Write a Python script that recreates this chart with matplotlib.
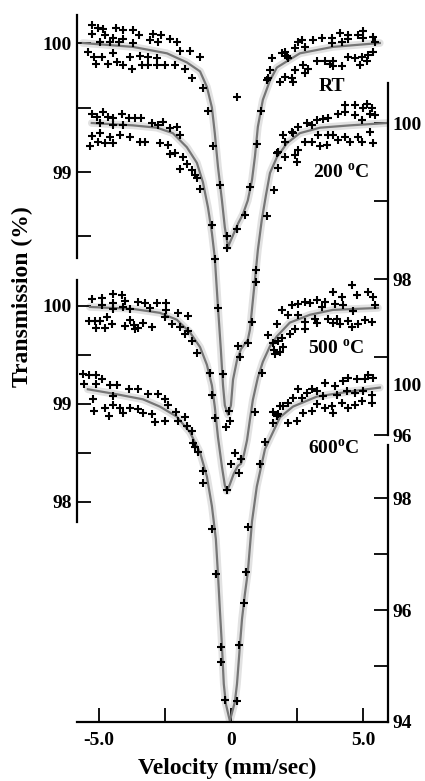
import matplotlib
matplotlib.use('Agg')
import matplotlib.pyplot as plt

plt.rcParams['font.family'] = ['Liberation Serif', 'DejaVu Serif']
plt.rcParams['font.weight'] = 'bold'
plt.rcParams['mathtext.fontset'] = 'custom'
plt.rcParams['mathtext.rm'] = 'Liberation Serif:bold'
plt.rcParams['mathtext.bf'] = 'Liberation Serif:bold'

# ---- fitted curves (velocity mm/s, transmission %) ----
rt_fit_v = [-5.61, -3.71, -2.42, -1.67, -1.17, -0.91, -0.72, -0.61, -0.49, -0.34, -0.23, -0.11,
            0.08, 0.27, 0.45, 0.64, 0.80, 0.91, 1.02, 1.21, 1.48, 1.74, 2.61, 3.86, 5.64]
rt_fit_t = [100.00, 99.97, 99.92, 99.85, 99.78, 99.66, 99.50, 99.30, 99.04, 98.78, 98.57, 98.42,
            98.51, 98.60, 98.67, 98.78, 98.94, 99.12, 99.35, 99.56, 99.71, 99.81, 99.92, 99.97, 100.00]

t200_fit_v = [-5.27, -3.71, -2.80, -2.20, -1.67, -1.29, -1.06, -0.87, -0.72, -0.61, -0.49, -0.38,
              -0.30, -0.23, -0.11, 0.00, 0.08, 0.23, 0.38, 0.53, 0.64, 0.72, 0.91, 1.02, 1.17,
              1.33, 1.48, 1.74, 2.12, 2.61, 3.37, 4.51, 5.91]
t200_fit_t = [100.00, 99.97, 99.94, 99.87, 99.69, 99.49, 99.24, 98.92, 98.59, 98.27, 97.64, 97.09,
              96.64, 96.38, 96.26, 96.38, 96.71, 96.96, 97.10, 97.17, 97.22, 97.35, 97.99, 98.37, 98.76,
              99.08, 99.36, 99.56, 99.74, 99.87, 99.94, 99.97, 100.00]

t500_fit_v = [-5.34, -3.71, -2.69, -2.05, -1.55, -1.17, -0.91, -0.72, -0.61, -0.49, -0.34, -0.23,
              -0.15, -0.04, 0.11, 0.27, 0.38, 0.49, 0.61, 0.72, 0.83, 1.02, 1.21, 1.48, 1.74,
              2.23, 2.99, 3.86, 5.57]
t500_fit_t = [99.99, 99.97, 99.93, 99.86, 99.73, 99.58, 99.40, 99.19, 98.97, 98.66, 98.36, 98.17,
              98.11, 98.18, 98.29, 98.37, 98.39, 98.48, 98.63, 98.84, 99.04, 99.27, 99.43, 99.59, 99.69,
              99.83, 99.91, 99.96, 99.98]

t600_fit_v = [-5.42, -4.32, -3.33, -2.69, -2.05, -1.55, -1.17, -0.91, -0.72, -0.57, -0.49, -0.42,
              -0.34, -0.27, -0.19, -0.04, 0.15, 0.23, 0.34, 0.42, 0.53, 0.64, 0.80, 0.98, 1.29,
              1.86, 2.35, 3.26, 4.51, 5.64]
t600_fit_t = [99.95, 99.86, 99.77, 99.64, 99.46, 99.18, 98.82, 98.39, 97.86, 97.27, 96.64, 96.02,
              95.36, 94.68, 94.32, 94.02, 94.36, 94.68, 95.36, 95.84, 96.29, 96.68, 97.59, 98.21, 98.88,
              99.45, 99.64, 99.82, 99.91, 99.98]

# ---- measured points ----
rt_v = [-5.28, -5.03, -4.84, -4.36, -4.08, -3.70, -3.47, -2.94, -2.63, -2.31, -5.28, -4.77, -4.46,
        -4.10, -4.94, -4.58, -4.23, -3.70, -3.07, -2.75, -2.06, -5.41, -5.19, -4.90, -4.46, -3.83,
        -3.45, -3.13, -2.81, -1.93, -1.55, -1.17, -5.11, -4.65, -4.33, -4.08, -3.76, -3.38, -3.13,
        -2.81, -2.50, -2.12, -1.74, -1.49, -1.05, -0.86, -0.67, -0.42, -0.16, -0.13, 0.22, 0.54,
        0.72, 0.97, 1.14, 1.35, 1.48, 0.22, 2.68, 3.12, 3.44, 3.81, 4.13, 4.44, 4.44, 4.82, 5.01,
        5.01, 5.39, 5.45, 4.19, 3.81, 2.80, 2.55, 2.42, 2.05, 2.11, 1.92, 2.17, 1.54, 2.42, 2.74,
        2.93, 2.80, 3.25, 3.56, 3.75, 3.88, 3.88, 4.19, 4.44, 4.70, 4.95, 5.20, 5.39, 4.89, 5.14,
        1.41, 1.86, 2.05, 2.30, 2.36]
rt_t = [100.14, 100.12, 100.11, 100.12, 100.10, 100.10, 100.06, 100.07, 100.06, 100.03, 100.07,
        100.06, 100.04, 100.03, 100.01, 100.01, 100.01, 100.00, 100.02, 100.01, 100.01, 99.93, 99.89,
        99.89, 99.92, 99.89, 99.90, 99.89, 99.88, 99.94, 99.94, 99.89, 99.84, 99.84, 99.85, 99.83,
        99.80, 99.83, 99.83, 99.83, 99.83, 99.83, 99.80, 99.73, 99.65, 99.47, 99.20, 98.90, 98.50,
        98.41, 98.56, 98.67, 98.88, 99.22, 99.47, 99.71, 99.79, 99.58, 100.02, 100.02, 100.04,
        100.04, 100.08, 100.06, 100.03, 100.06, 100.09, 100.04, 100.05, 100.01, 100.01, 100.00,
        99.97, 100.01, 99.96, 99.93, 99.90, 99.92, 99.88, 99.88, 99.79, 99.83, 99.80, 99.77, 99.86,
        99.86, 99.84, 99.86, 99.82, 99.82, 99.89, 99.88, 99.89, 99.91, 99.93, 99.83, 99.86, 99.73,
        99.70, 99.74, 99.73, 99.70]

t200_v = [-5.28, -5.09, -4.84, -4.65, -4.46, -4.14, -3.85, -3.64, -3.41, -4.96, -4.46, -4.08,
          -3.00, -2.75, -2.56, -2.31, -2.06, -5.28, -4.96, -4.58, -4.20, -3.83, -5.03, -4.77, -4.48,
          -3.45, -3.26, -2.69, -2.38, -1.93, -5.34, -2.31, -2.12, -1.81, -1.68, -1.93, -1.49, -1.36,
          -1.30, -1.17, -0.73, -0.61, -0.48, -0.31, -0.06, -0.04, -0.19, 0.28, 0.34, 0.66, 0.78,
          0.95, 0.95, 1.35, 1.64, 1.79, 2.05, 2.49, 2.42, 2.05, 1.98, 2.30, 2.55, 2.87, 3.06, 3.25,
          3.50, 3.69, 4.06, 4.32, 4.70, 5.01, 5.14, 4.70, 4.32, 5.33, 5.27, 5.45, 4.95, 2.80, 3.06,
          3.37, 3.69, 3.88, 4.06, 4.32, 4.51, 4.82, 4.95, 5.27, 5.39, 3.63, 3.31, 2.55, 1.79, 1.73,
          2.36]
t200_t = [100.11, 100.08, 100.14, 100.08, 100.06, 100.11, 100.07, 100.07, 100.07, 100.00, 99.97,
          99.97, 100.00, 99.97, 100.01, 99.93, 99.95, 99.84, 99.87, 99.82, 99.85, 99.82, 99.76, 99.74,
          99.74, 99.76, 99.76, 99.75, 99.72, 99.85, 99.70, 99.60, 99.61, 99.57, 99.47, 99.41, 99.40,
          99.33, 99.30, 99.16, 98.69, 98.26, 97.63, 96.78, 96.31, 96.18, 96.10, 97.14, 97.00, 97.18,
          97.45, 98.12, 97.96, 98.81, 99.14, 99.42, 99.56, 99.50, 99.59, 99.76, 99.85, 99.89, 99.95,
          100.00, 99.98, 100.04, 100.05, 100.06, 100.12, 100.14, 100.10, 100.19, 100.24, 100.23,
          100.23, 100.19, 100.12, 100.10, 100.04, 99.76, 99.76, 99.70, 99.85, 99.85, 99.78, 99.82,
          99.76, 99.82, 99.76, 99.89, 99.74, 99.72, 99.85, 99.65, 99.63, 99.61, 99.87]

t500_v = [-5.28, -4.90, -4.48, -4.14, -4.02, -3.51, -3.26, -2.81, -2.44, -4.90, -4.46, -4.46,
          -4.08, -3.83, -3.07, -2.46, -5.37, -5.15, -4.96, -4.71, -5.11, -4.77, -4.52, -4.02, -3.83,
          -3.67, -3.64, -3.51, -3.32, -3.00, -2.50, -2.25, -2.00, -1.93, -1.62, -1.74, -1.62, -1.49,
          -1.30, -0.80, -0.73, -0.61, -0.01, 0.15, 0.38, 0.31, -0.13, 0.91, 1.16, 1.41, 1.60, 1.79,
          1.64, 1.92, 1.98, 1.86, 1.67, 1.73, 1.92, 2.17, 2.30, 2.55, 2.80, 2.99, 3.25, 3.56, 3.88,
          4.19, 4.57, 4.76, 5.20, 3.94, 4.25, 5.39, 5.45, 4.63, 3.44, 2.55, 2.80, 2.80, 2.42, 2.23,
          3.18, 3.25, 3.69, 3.88, 4.00, 4.13, 4.44, 4.57, 4.82, 5.08, 5.33]
t500_t = [100.07, 100.08, 100.12, 100.11, 100.05, 100.04, 100.03, 100.03, 100.03, 100.01, 100.03,
          99.97, 99.99, 99.97, 99.98, 99.96, 99.85, 99.85, 99.85, 99.89, 99.78, 99.78, 99.82, 99.80,
          99.86, 99.81, 99.77, 99.78, 99.83, 99.79, 99.89, 99.82, 99.93, 99.79, 99.90, 99.71, 99.74,
          99.64, 99.52, 99.32, 99.09, 98.86, 98.39, 98.50, 98.44, 98.30, 98.12, 98.92, 99.32, 99.70,
          99.62, 99.64, 99.55, 99.67, 99.58, 99.53, 99.51, 99.82, 99.96, 99.91, 100.01, 100.02,
          100.04, 100.03, 100.06, 100.04, 100.14, 100.09, 100.21, 100.11, 100.14, 100.02, 100.01,
          100.09, 100.01, 99.95, 99.99, 99.91, 99.84, 99.76, 99.76, 99.71, 99.87, 99.83, 99.87, 99.83,
          99.87, 99.82, 99.85, 99.79, 99.82, 99.86, 99.84]

t600_v = [-5.59, -5.37, -5.11, -5.57, -5.11, -4.90, -4.58, -4.33, -3.85, -3.51, -3.13, -2.75,
          -2.50, -4.46, -5.24, -4.77, -4.48, -4.20, -4.08, -5.19, -4.61, -3.83, -3.51, -3.32, -3.00,
          -2.88, -2.50, -2.38, -2.08, -2.00, -1.74, -1.68, -1.49, -1.43, -1.36, -1.24, -1.07, -1.05,
          -0.73, -0.57, -0.39, -0.38, -0.23, 0.22, 0.31, 0.50, 0.56, 0.66, 1.10, 1.29, 1.60, 1.73,
          1.58, 1.79, 2.17, 2.49, 1.86, 1.98, 2.17, 2.74, 3.06, 3.88, 3.25, 3.56, 3.81, 4.19, 4.44,
          4.70, 4.95, 5.33, 2.68, 2.36, 3.50, 4.00, 4.38, 4.70, 5.01, 5.33, 3.06, 3.25, 2.87, 2.55,
          3.56, 3.94, 4.25, 4.44, 4.76, 5.08, 5.39, 5.20]
t600_t = [100.23, 100.20, 100.20, 100.05, 100.05, 100.13, 100.02, 100.02, 99.96, 99.96, 99.87,
          99.86, 99.77, 99.83, 99.77, 99.61, 99.67, 99.61, 99.53, 99.56, 99.47, 99.61, 99.59, 99.53,
          99.50, 99.37, 99.39, 99.67, 99.55, 99.39, 99.45, 99.29, 99.20, 98.99, 98.91, 98.82, 98.48,
          98.28, 97.46, 96.64, 95.35, 95.08, 94.40, 94.38, 95.38, 96.13, 96.69, 97.48, 98.61, 99.01,
          99.54, 99.48, 99.34, 99.50, 99.35, 99.38, 99.65, 99.65, 99.70, 99.53, 99.56, 99.53, 99.68,
          99.62, 99.65, 99.70, 99.62, 99.66, 99.74, 99.70, 99.80, 99.80, 99.83, 99.84, 99.92, 99.89,
          99.92, 99.84, 99.95, 99.92, 99.89, 99.95, 100.07, 100.01, 100.09, 100.16, 100.13, 100.14,
          100.16, 100.21]

x_ticks = [-5.0, -2.5, 0.0, 2.5, 5.0]
x_tick_labels = ['-5.0', '', '0', '', '5.0']

fig = plt.figure(figsize=(4.25, 7.81), dpi=100)
W, H = 425.0, 781.0
rect = [77 / W, (H - 722) / H, (388 - 77) / W, (722 - 10) / H]
FS = 14


def make_axes(ylim):
    ax = fig.add_axes(rect)
    ax.set_xlim(-5.83, 5.95)
    ax.set_ylim(*ylim)
    ax.patch.set_visible(False)
    for s in ax.spines.values():
        s.set_visible(False)
        s.set_linewidth(1.6)
    ax.set_xticks([])
    ax.tick_params(which='both', direction='in', length=10, width=1.3,
                   labelsize=FS, pad=3.5)
    return ax


def draw_spectrum(ax, fv, ft, pv, pt):
    ax.plot(fv, ft, color='#e2e2e2', lw=5.5, solid_capstyle='round', zorder=1)
    ax.plot(fv, ft, color='#767676', lw=1.6, zorder=2)
    ax.plot(pv, pt, ls='none', marker='+', ms=5.5, mew=1.5, color='black', zorder=3)


ax_rt = make_axes((94.736, 100.256))
ax_200 = make_axes((92.321, 101.449))
ax_500 = make_axes((95.755, 103.020))
ax_600 = make_axes((94.0, 106.732))

# left axis, upper pair
ax_rt.spines['left'].set_visible(True)
ax_rt.spines['left'].set_bounds(98.33, 100.22)
ax_rt.set_yticks([99, 100])
ax_rt.set_yticks([98.5, 99.5], minor=True)

# right axis, 200 C
ax_200.spines['right'].set_visible(True)
ax_200.spines['right'].set_bounds(96.0, 100.51)
ax_200.yaxis.tick_right()
ax_200.set_yticks([96, 98, 100])
ax_200.set_yticks([97, 99], minor=True)

# left axis, lower pair
ax_500.spines['left'].set_visible(True)
ax_500.spines['left'].set_bounds(97.8, 100.26)
ax_500.set_yticks([98, 99, 100])
ax_500.set_yticks([98.5, 99.5], minor=True)

# right axis, 600 C + velocity axis
ax_600.spines['right'].set_visible(True)
ax_600.spines['right'].set_bounds(94.0, 98.96)
ax_600.spines['bottom'].set_visible(True)
ax_600.yaxis.tick_right()
ax_600.set_yticks([94, 96, 98])
ax_600.set_yticks([95, 97], minor=True)
ax_600.annotate('100', xy=(1, 100), xycoords=ax_600.get_yaxis_transform(),
                xytext=(3.5, 0), textcoords='offset points', ha='left', va='center',
                fontsize=FS, fontweight='bold')
ax_600.set_xticks(x_ticks)
ax_600.set_xticklabels(x_tick_labels)
ax_600.tick_params(axis='x', pad=7)

draw_spectrum(ax_rt, rt_fit_v, rt_fit_t, rt_v, rt_t)
draw_spectrum(ax_200, t200_fit_v, t200_fit_t, t200_v, t200_t)
draw_spectrum(ax_500, t500_fit_v, t500_fit_t, t500_v, t500_t)
draw_spectrum(ax_600, t600_fit_v, t600_fit_t, t600_v, t600_t)

ax_rt.text(3.83, 99.66, 'RT', ha='center', va='center', fontsize=FS)
ax_200.text(4.17, 99.36, r'200 $^{\mathrm{o}}$C', ha='center', va='center', fontsize=FS)
ax_500.text(3.98, 99.56, r'500 $^{\mathrm{o}}$C', ha='center', va='center', fontsize=FS)
ax_600.text(3.90, 98.89, r'600$^{\mathrm{o}}$C', ha='center', va='center', fontsize=FS)

fig.text(22 / W, 1 - 297 / H, 'Transmission (%)', rotation=90, ha='center', va='center',
         fontsize=17, fontweight='bold')
fig.text(227 / W, 1 - 768 / H, 'Velocity (mm/sec)', ha='center', va='center',
         fontsize=17, fontweight='bold')

fig.savefig('out.png', dpi=100)
